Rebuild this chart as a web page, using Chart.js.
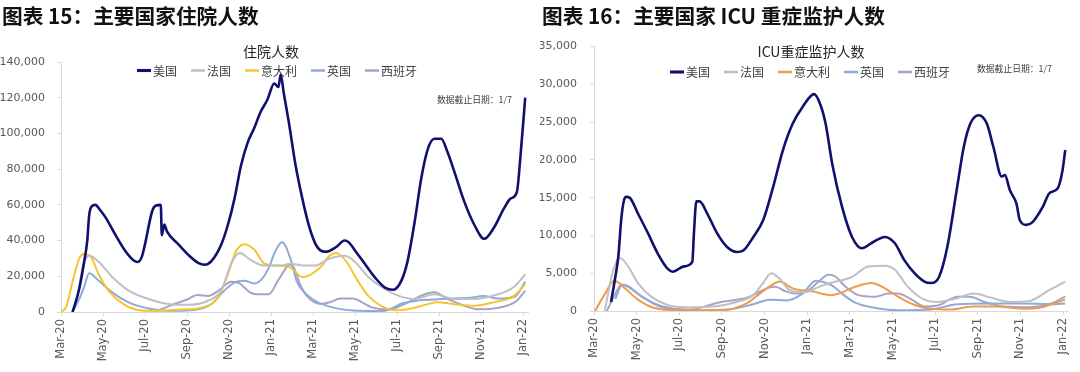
<!DOCTYPE html>
<html>
<head>
<meta charset="utf-8">
<script src="https://cdn.jsdelivr.net/npm/chart.js@4.4.1/dist/chart.umd.min.js"></script>
<style>
  body { margin: 0; background: #fff; width: 1080px; height: 372px; overflow: hidden; font-family: "Noto Sans CJK SC", sans-serif; }
  .panel { position: absolute; top: 0; width: 540px; height: 372px; }
  .panel canvas { position: absolute; left: 0; top: 0; }
  .head { position: absolute; top: 3px; left: 2px; font-size: 20.7px; line-height: 24px; font-weight: bold; color: #111; white-space: nowrap; }
  .note { position: absolute; font-size: 8.8px; line-height: 12px; color: #404040; white-space: nowrap; }
</style>
</head>
<body>

<div class="panel" style="left:0">
  <canvas id="hospChart" width="540" height="372"></canvas>
  <div class="head">图表 15：主要国家住院人数</div>
  <div class="note" style="left:437px;top:94px">数据截止日期：1/7</div>
</div>
<div class="panel" style="left:540px">
  <canvas id="icuChart" width="540" height="372"></canvas>
  <div class="head">图表 16：主要国家 ICU 重症监护人数</div>
  <div class="note" style="left:437px;top:63px">数据截止日期：1/7</div>
</div>

<script>
// x = months since 1 Mar 2020
const tickMonths = [0, 2, 4, 6, 8, 10, 12, 14, 16, 18, 20, 22];
const tickLabels = ["Mar-20", "May-20", "Jul-20", "Sep-20", "Nov-20", "Jan-21",
                    "Mar-21", "May-21", "Jul-21", "Sep-21", "Nov-21", "Jan-22"];
const countries = ["美国", "法国", "意大利", "英国", "西班牙"];

// 住院人数 [month, value]
const hospUS = [[0.55,0],[0.85,12000],[1.1,28000],[1.25,40000],[1.34,54000],[1.45,59000],[1.65,60000],[1.8,58000],
  [2.12,53000],[2.6,43000],[3.07,34000],[3.45,29000],[3.65,28000],[3.85,31000],[4.0,38000],[4.33,56000],[4.5,59500],
  [4.75,60000],[4.8,43000],[4.92,49000],[5.05,45000],[5.58,38000],[6.06,32000],[6.53,27500],[6.84,26500],[7.16,28500],
  [7.63,37800],[7.95,49000],[8.26,63500],[8.57,82000],[8.89,95000],[9.2,103000],[9.5,112000],[9.83,119000],
  [10.15,128000],[10.35,126000],[10.46,133000],[10.6,123000],[10.85,106000],[11.17,82000],[11.49,63500],[11.8,48500],
  [12.12,38000],[12.35,34500],[12.6,33700],[13.1,36400],[13.5,40000],[13.7,39000],[14.05,33600],[14.48,26700],
  [14.95,19300],[15.42,13700],[15.82,12500],[16.2,17400],[16.5,28500],[16.84,50700],[17.15,74800],[17.47,91500],
  [17.78,97000],[18.1,97000],[18.4,89600],[18.73,78500],[19.2,61800],[19.67,49000],[20.15,41000],[20.6,47000],
  [21.09,58000],[21.4,63500],[21.7,67000],[21.88,88000],[22.1,120000]];
const hospFR = [[0.55,0],[0.8,10000],[1.05,26000],[1.35,31500],[1.8,28000],[2.44,19600],[3.22,12000],[4.17,7300],
  [5.1,4500],[6.05,4000],[7.0,6300],[7.63,12000],[8.1,27000],[8.5,33000],[9.05,29000],[9.67,26000],[10.46,26000],
  [10.9,27000],[11.64,26000],[12.1,26000],[12.74,29700],[13.5,31500],[14.0,28000],[14.63,19600],[15.26,14000],
  [16.05,9200],[16.84,7300],[17.78,10000],[18.7,7300],[19.67,7300],[20.6,9200],[21.56,14000],[22.1,21000]];
const hospIT = [[0,0],[0.25,3000],[0.55,17000],[0.87,30000],[1.1,32500],[1.42,31000],[1.8,21000],[2.28,11700],
  [2.9,5000],[3.54,1400],[4.2,700],[5.0,900],[6.0,1500],[6.68,2400],[7.47,8000],[7.94,21000],[8.33,34000],
  [8.73,38000],[9.2,35000],[9.7,27000],[10.3,26000],[10.9,25000],[11.5,19500],[12.35,25000],[12.8,31700],
  [13.1,33000],[13.6,28000],[14.1,18000],[14.63,9000],[15.26,3300],[15.9,1000],[16.5,1500],[17.47,4400],
  [17.9,5500],[18.7,4400],[19.67,3500],[20.6,5400],[21.56,9000],[22.1,15600]];
const hospUK = [[0.55,0],[0.9,8000],[1.1,14000],[1.34,21700],[1.8,17500],[2.44,11000],[3.22,5400],[4.17,2000],
  [5.1,700],[6.2,1000],[7.16,4400],[7.78,12000],[8.26,16600],[8.73,17500],[9.2,16000],[9.6,19000],[9.9,25000],
  [10.2,34000],[10.53,39000],[10.92,30000],[11.23,17000],[11.55,11500],[12.0,7000],[12.6,3700],[13.9,800],
  [15.3,500],[16.3,5000],[17.0,6500],[17.8,7000],[18.5,7500],[19.5,8000],[20.1,9000],[20.8,7500],[21.6,8500],
  [22.1,17000]];
const hospES = [[4.5,300],[5.3,4000],[6.0,7000],[6.5,9500],[7.0,9000],[7.5,12000],[8.1,17000],[8.5,16000],
  [9.0,11000],[9.3,10000],[9.9,10000],[10.3,17000],[10.62,23000],[10.86,26500],[11.05,25500],[11.4,15000],
  [11.7,9000],[12.35,4500],[12.8,5500],[13.3,7500],[13.9,7500],[14.4,5000],[14.8,2600],[15.6,1500],[16.35,4400],
  [17.15,9200],[17.78,11000],[18.4,7300],[19.2,3500],[19.9,1500],[20.9,2500],[21.7,6300],[22.1,12000]];

// ICU重症监护人数 [month, value]
const icuUS = [[0.8,1200],[1.0,4500],[1.14,7200],[1.29,12500],[1.45,15000],[1.52,15100],[1.67,15000],[2.06,12900],
  [2.53,10300],[2.99,7600],[3.45,5600],[3.69,5200],[4.22,5900],[4.61,6500],[4.69,10500],[4.8,14500],[4.95,14500],
  [5.31,12900],[5.77,10300],[6.23,8500],[6.7,7800],[7.0,8000],[7.47,9800],[7.93,12000],[8.4,16400],[8.86,21300],
  [9.32,24800],[9.78,27000],[10.32,28700],[10.63,27200],[10.86,24800],[11.17,19500],[11.63,13800],[12.1,9800],
  [12.56,8300],[13.02,9000],[13.64,9800],[14.1,9000],[14.56,6700],[15.03,5000],[15.49,3900],[15.8,3700],
  [16.18,4500],[16.57,8500],[17.03,16400],[17.34,21700],[17.65,24800],[18.04,25900],[18.42,24800],[18.73,21700],
  [19.12,17800],[19.27,18000],[19.5,16000],[19.81,14200],[19.97,12000],[20.27,11400],[20.58,11800],[21.05,13800],
  [21.36,15600],[21.74,16200],[21.97,18600],[22.1,21300]];
const icuFR = [[0.5,0],[0.9,5400],[1.22,7000],[1.6,5900],[2.06,3700],[2.68,1900],[3.45,800],[4.37,500],[5.6,600],
  [6.7,1200],[7.47,2100],[7.93,3700],[8.31,5000],[8.7,4300],[9.16,2800],[9.93,2500],[10.55,3200],[11.1,3700],
  [12.1,4500],[12.87,5900],[13.64,6000],[14.1,5500],[14.72,3200],[15.49,1500],[16.1,1200],[17.03,1700],
  [17.8,2300],[18.58,1800],[19.5,1200],[20.4,1300],[21.36,2800],[22.1,3900]];
const icuIT = [[0.05,0],[0.52,2300],[0.95,4000],[1.45,3000],[2.06,1500],[2.84,400],[4.0,100],[6.0,100],[7.16,1000],
  [7.77,2300],[8.31,3400],[8.7,3900],[9.32,3000],[10.24,2600],[11.1,2100],[11.48,2300],[12.25,3200],[13.02,3700],
  [13.64,3000],[14.25,1900],[15.03,800],[15.8,300],[16.7,200],[17.8,600],[18.9,600],[20.1,300],[21.0,500],
  [22.1,1500]];
const icuUK = [[1.0,1600],[1.31,3400],[1.6,3200],[2.24,1900],[3.1,700],[3.8,300],[5.0,100],[6.3,200],[7.47,900],
  [8.24,1500],[9.0,1400],[9.78,2300],[10.4,4000],[10.8,3800],[11.2,3300],[11.63,2300],[12.25,1100],[13.2,400],
  [14.25,100],[15.8,200],[17.03,900],[18.58,1000],[20.1,1000],[21.6,900],[22.1,1000]];
const icuES = [[0.6,0],[0.95,2000],[1.3,3500],[1.6,3300],[2.2,2000],[3.0,700],[4.0,200],[4.5,200],[5.2,600],
  [5.8,1100],[6.7,1500],[7.1,1700],[7.6,2300],[8.1,3000],[8.5,3200],[9.0,2600],[9.5,2300],[10.0,2600],[10.5,3800],
  [11.0,4800],[11.3,4600],[11.8,3200],[12.4,2100],[13.2,1900],[13.8,2300],[14.25,2300],[14.9,1500],[15.5,600],
  [16.2,800],[17.03,1900],[17.65,1900],[18.3,1200],[19.2,600],[20.4,500],[21.36,900],[22.1,1900]];

const toPoints = (rows) => rows.map(([m, v]) => ({ x: m, y: v }));

// legend + subtitle drawn over the plot area, like the original
const overlayPlugin = {
  id: "overlay",
  beforeDatasetsDraw(chart, args, opts) {
    const ctx = chart.ctx;
    ctx.save();
    ctx.fillStyle = "#262626";
    ctx.textAlign = "center";
    ctx.textBaseline = "middle";
    ctx.font = '14px "Noto Sans CJK SC"';
    ctx.fillText(opts.title, opts.titleX, opts.titleY);

    ctx.font = '12px "Noto Sans CJK SC"';
    const lineLen = 14, gap = 2, itemGap = 14;
    const sets = chart.data.datasets;
    let total = itemGap * (sets.length - 1);
    sets.forEach((d) => (total += lineLen + gap + ctx.measureText(d.label).width));
    let x = opts.legendX - total / 2;
    ctx.textAlign = "left";
    sets.forEach((d) => {
      ctx.strokeStyle = d.borderColor;
      ctx.lineWidth = d.borderWidth + 0.5;
      ctx.beginPath();
      ctx.moveTo(x, opts.legendY);
      ctx.lineTo(x + lineLen, opts.legendY);
      ctx.stroke();
      x += lineLen + gap;
      ctx.fillStyle = "#404040";
      ctx.fillText(d.label, x, opts.legendY + 0.5);
      x += ctx.measureText(d.label).width + itemGap;
    });
    ctx.restore();
  },
};

function makeChart(id, series, colors, cfg) {
  const datasets = series.map((rows, i) => ({
    label: countries[i],
    data: toPoints(rows),
    borderColor: colors[i],
    borderWidth: i === 0 ? 2.6 : 2,
    pointRadius: 0,
    fill: false,
    cubicInterpolationMode: "monotone",
  }));

  return new Chart(document.getElementById(id), {
    type: "line",
    data: { datasets },
    plugins: [overlayPlugin],
    options: {
      responsive: false,
      animation: false,
      events: [],
      layout: { padding: { top: cfg.top, right: cfg.right, left: 0, bottom: 0 } },
      plugins: {
        legend: { display: false },
        tooltip: { enabled: false },
        overlay: cfg.overlay,
      },
      scales: {
        x: {
          type: "linear",
          min: 0,
          max: 22.25,
          afterBuildTicks: (scale) => {
            scale.ticks = tickMonths.map((v) => ({ value: v }));
          },
          afterFit: (scale) => {
            scale.height = cfg.xHeight;
          },
          ticks: {
            autoSkip: false,
            minRotation: 90,
            maxRotation: 90,
            padding: 3,
            color: "#595959",
            font: { family: "DejaVu Sans", size: 11.5 },
            callback: (v) => tickLabels[tickMonths.indexOf(v)],
          },
          grid: { drawOnChartArea: false, tickLength: 4, color: "#d9d9d9" },
          border: { color: "#d9d9d9" },
        },
        y: {
          min: 0,
          max: cfg.yMax,
          afterBuildTicks: (scale) => {
            const t = [];
            for (let v = 0; v <= cfg.yMax; v += cfg.yStep) t.push({ value: v });
            scale.ticks = t;
          },
          afterFit: (scale) => {
            scale.width = cfg.yWidth;
          },
          ticks: {
            padding: cfg.yPad,
            color: "#595959",
            font: { family: "DejaVu Sans", size: 11 },
            callback: (v) => v.toLocaleString("en-US"),
          },
          grid: { drawOnChartArea: false, tickLength: 4, color: "#d9d9d9" },
          border: { color: "#d9d9d9" },
        },
      },
    },
  });
}

makeChart("hospChart", [hospUS, hospFR, hospIT, hospUK, hospES],
  ["#10106e", "#bfbfc4", "#f5c431", "#8eaadb", "#a7a3c8"],
  { top: 62, right: 8.6, xHeight: 60, yMax: 140000, yStep: 20000, yWidth: 61, yPad: 12,
    overlay: { title: "住院人数", titleX: 271, titleY: 52, legendX: 277, legendY: 70.5 } });

makeChart("icuChart", [icuUS, icuFR, icuIT, icuUK, icuES],
  ["#10106e", "#bfbfc4", "#f09a4c", "#8eaadb", "#a7a3c8"],
  { top: 46.5, right: 5.4, xHeight: 61, yMax: 35000, yStep: 5000, yWidth: 54, yPad: 13,
    overlay: { title: "ICU重症监护人数", titleX: 271, titleY: 52, legendX: 270, legendY: 72 } });
</script>
</body>
</html>
